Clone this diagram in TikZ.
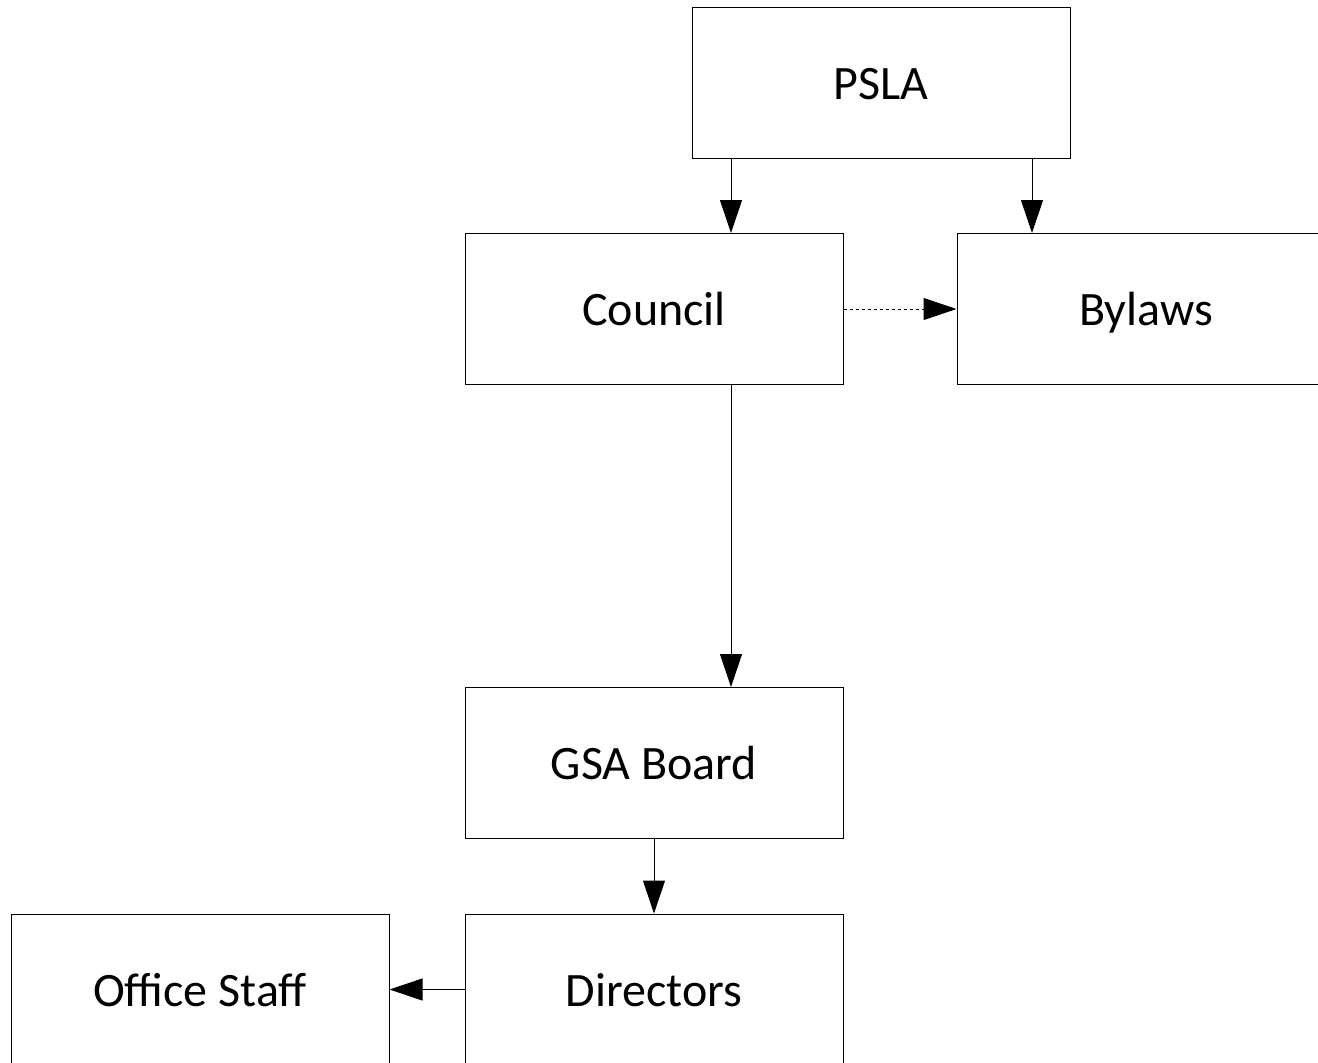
\documentclass[tikz,border=0pt]{standalone}
\usepackage{fontspec}
\setmainfont{Carlito}
\usepackage{tikz}
\usetikzlibrary{arrows.meta}

\begin{document}
\begin{tikzpicture}[x=0.5pt,y=-0.5pt,>={Triangle[length=16.5pt,width=11pt]}]

  \tikzstyle{unit}=[rectangle,draw=black,line width=0.5pt,inner sep=0pt,
    minimum width=189pt,minimum height=75.5pt,
    text height=18pt,text depth=1.5pt,
    font=\fontsize{24}{28}\selectfont]

  \useasboundingbox (0,0) rectangle (1318,1062);
  \clip (0,0) rectangle (1318,1062);

  \node (p) at (881,82.5)  [unit] {PSLA};
  \node (c) at (654,309)   [unit] {Council};
  \node (b) at (1146,309)  [unit] {Bylaws};
  \node (g) at (654,763)   [unit] {GSA Board};
  \node (d) at (654,989.5) [unit] {Directors};
  \node (o) at (200,989.5) [unit] {Office Staff};

  \tikzstyle{link}=[->,line width=0.5pt]
  \tikzstyle{linkd}=[->,line width=0.5pt,dash pattern=on 1.5pt off 1.5pt]

  \draw [link] ([xshift=38.5pt]c.north |- p.south) -- ([xshift=38.5pt]c.north);
  \draw [link] ([xshift=-57pt]b.north |- p.south) -- ([xshift=-57pt]b.north);
  \draw [linkd] (c) -- (b);
  \draw [link] ([xshift=38.5pt]c.south) -- ([xshift=38.5pt]c.south |- g.north);
  \draw [link] (g) -- (d);
  \draw [link] (d) -- (o);
\end{tikzpicture}
\end{document}
